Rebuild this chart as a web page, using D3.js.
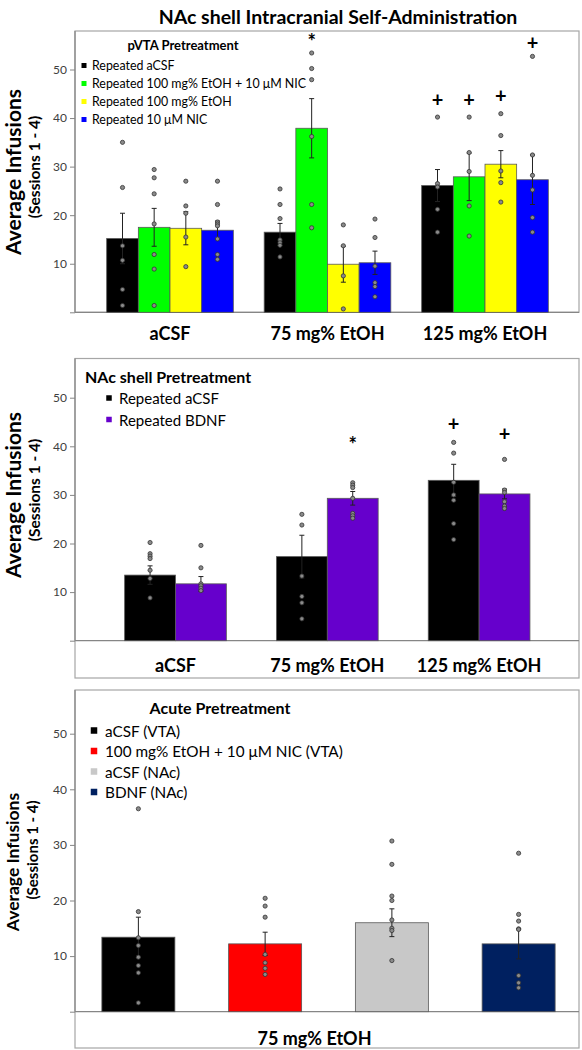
<!DOCTYPE html>
<html><head><meta charset="utf-8">
<script src="https://cdn.jsdelivr.net/npm/d3@7/dist/d3.min.js"></script>
<style>
body{margin:0;background:#fff}
svg{display:block;font-family:Lato,"Open Sans",sans-serif}
</style>
</head><body>
<svg id="chart" width="582" height="1050"></svg>
<script>
// ---------- DATA ----------
const yTicks = [10, 20, 30, 40, 50];
const titleText = "NAc shell Intracranial Self-Administration";
const yTitle = "Average Infusions";
const ySub = "(Sessions 1 - 4)";

// Panel 1 : pVTA pretreatment
const groups1 = ["aCSF", "75 mg% EtOH", "125 mg% EtOH"];
const series1 = ["Repeated aCSF", "Repeated 100 mg% EtOH + 10 \u03bcM NIC", "Repeated 100 mg% EtOH", "Repeated 10 \u03bcM NIC"];
const colors1 = ["#000000", "#00ff00", "#ffff00", "#0000ff"];
const means1 = [[15.2, 17.5, 17.3, 16.9], [16.5, 37.9, 9.9, 10.2], [26.1, 27.9, 30.5, 27.3]];
const sems1 = [[5.2, 3.9, 3.4, 1.9], [1.8, 6.1, 3.7, 2.4], [3.3, 4.9, 2.8, 5.1]];
const points1 = [
  [[35.0, 25.7, 13.7, 10.7, 4.7, 1.4], [29.4, 27.7, 24.4, 18.2, 11.9, 8.9, 1.4], [27.0, 21.9, 20.4, 15.5, 9.4], [27.0, 22.2, 18.6, 18.2, 17.8, 15.1, 11.9, 10.9]],
  [[25.4, 22.2, 19.3, 14.9, 14.3, 13.8, 11.4], [53.4, 50.2, 47.9, 36.2, 22.2, 17.4], [18.0, 13.7, 7.5, 0.7], [19.2, 15.4, 9.5, 6.1, 5.3, 3.2]],
  [[40.2, 26.5, 25.8, 21.2, 16.5], [40.2, 32.9, 29.0, 21.9, 15.7], [40.9, 36.4, 29.1, 26.7, 22.7], [52.7, 32.4, 28.2, 25.2, 19.5, 16.5]]
];
const marks1 = [[1, 1, "*", 56.2], [2, 0, "+", 43.7], [2, 1, "+", 43.7], [2, 2, "+", 44.4], [2, 3, "+", 55.3]];
const legendTitle1 = "pVTA Pretreatment";

// Panel 2 : NAc shell pretreatment
const groups2 = ["aCSF", "75 mg% EtOH", "125 mg% EtOH"];
const series2 = ["Repeated aCSF", "Repeated BDNF"];
const colors2 = ["#000000", "#6600cc"];
const means2 = [[13.5, 11.7], [17.3, 29.3], [33.0, 30.2]];
const sems2 = [[1.9, 1.5], [4.4, 1.4], [3.3, 1.0]];
const points2 = [
  [[20.2, 17.9, 17.4, 16.9, 14.5, 12.8, 8.8], [19.6, 15.0, 11.7, 11.3, 10.8, 10.3]],
  [[26.0, 23.8, 13.3, 9.1, 7.8, 4.5], [32.5, 32.0, 31.5, 29.3, 26.2, 25.7, 25.2]],
  [[40.8, 38.6, 32.6, 30.0, 28.9, 24.1, 20.8], [37.3, 31.0, 30.5, 28.6, 27.7, 27.2]]
];
const marks2 = [[1, 1, "*", 40.9], [2, 0, "+", 44.4], [2, 1, "+", 42.5]];
const legendTitle2 = "NAc shell Pretreatment";

// Panel 3 : acute pretreatment
const groups3 = ["75 mg% EtOH"];
const series3 = ["aCSF (VTA)", "100 mg% EtOH + 10 \u03bcM NIC (VTA)", "aCSF (NAc)", "BDNF (NAc)"];
const colors3 = ["#000000", "#ff0000", "#c8c8c8", "#002060"];
const means3 = [[13.4, 12.2, 16.0, 12.2]];
const sems3 = [[3.6, 2.1, 2.5, 2.7]];
const points3 = [[
  [36.5, 18.0, 13.3, 11.9, 9.8, 8.3, 7.0, 1.6],
  [20.4, 19.0, 17.0, 10.3, 8.8, 7.8, 6.7],
  [30.7, 26.5, 20.8, 20.0, 16.5, 15.0, 14.6, 9.2],
  [28.5, 17.5, 16.3, 14.9, 14.8, 6.5, 5.2, 4.3]
]];
const marks3 = [];
const legendTitle3 = "Acute Pretreatment";

// ---------- DRAW ----------
const svg = d3.select("#chart");
svg.append("rect").attr("width", 582).attr("height", 1050).attr("fill", "#fff");

svg.append("text").attr("x", 338).attr("y", 24).attr("text-anchor", "middle")
  .attr("font-weight", "bold").attr("font-size", 19.5).attr("fill", "#000").text(titleText);

function panel(o) {
  const g = svg.append("g");
  const y = d3.scaleLinear().domain([0, 50]).range([o.y0, o.y50]);
  const x0 = d3.scaleBand().domain(o.groups).range(o.xr).paddingInner(o.pi).paddingOuter(o.po);
  const x1 = d3.scaleBand().domain(o.series).range([0, x0.bandwidth()]).paddingInner(o.pi1 || 0).paddingOuter(o.po1 || 0);

  // frame
  g.append("rect").attr("x", o.box[0]).attr("y", o.box[1])
    .attr("width", o.box[2] - o.box[0]).attr("height", o.box[3] - o.box[1])
    .attr("fill", "none").attr("stroke", "#a6a6a6").attr("stroke-width", 1.2);

  // y axis
  const ax = g.append("g").attr("transform", `translate(${o.box[0]},0)`)
    .call(d3.axisLeft(y).tickValues([0, ...yTicks]).tickFormat(d => d === 0 ? "" : d).tickSize(5).tickSizeOuter(0).tickPadding(3));
  ax.select(".domain").remove();
  ax.selectAll(".tick line").attr("stroke", "#868686");
  ax.selectAll(".tick text").attr("font-size", 12).attr("fill", "#404040").attr("font-family", "Lato, sans-serif");
  g.append("line").attr("x1", o.box[0]).attr("x2", o.box[0]).attr("y1", o.box[1]).attr("y2", y(0)).attr("stroke", "#868686").attr("stroke-width", 1.2);
  g.append("line").attr("x1", o.box[0]).attr("x2", o.box[2]).attr("y1", y(0)).attr("y2", y(0)).attr("stroke", "#868686").attr("stroke-width", 1.2);

  // bars
  o.groups.forEach((gr, gi) => {
    o.series.forEach((se, si) => {
      const m = o.means[gi][si], s = o.sems[gi][si];
      const bx = x0(gr) + x1(se), bw = x1.bandwidth(), cx = bx + bw / 2;
      g.append("rect").attr("x", bx).attr("y", y(m)).attr("width", bw).attr("height", y(0) - y(m))
        .attr("fill", o.colors[si]).attr("stroke", "#595959").attr("stroke-width", 0.8);
      g.append("line").attr("x1", cx).attr("x2", cx).attr("y1", y(m - s)).attr("y2", y(m + s)).attr("stroke", "#222").attr("stroke-width", 1);
      [m - s, m + s].forEach(v => g.append("line").attr("x1", cx - 2.5).attr("x2", cx + 2.5).attr("y1", y(v)).attr("y2", y(v)).attr("stroke", "#222").attr("stroke-width", 1));
      g.selectAll(null).data(o.points[gi][si]).enter().append("circle")
        .attr("cx", cx).attr("cy", d => y(d)).attr("r", 2.1)
        .attr("fill", "#8a8a8a").attr("stroke", "#333").attr("stroke-width", 0.8);
    });
  });

  // significance marks
  o.marks.forEach(([gi, si, sym, v]) => {
    const cx = x0(o.groups[gi]) + x1(o.series[si]) + x1.bandwidth() / 2;
    g.append("text").attr("x", cx).attr("y", y(v) + (sym === "*" ? 10 : 6.5)).attr("text-anchor", "middle")
      .attr("font-weight", "bold").attr("font-size", 20).attr("fill", "#000").text(sym);
  });

  // category labels
  o.groups.forEach(gr => {
    g.append("text").attr("x", x0(gr) + x0.bandwidth() / 2 + (o.labDx || 0)).attr("y", o.labY)
      .attr("text-anchor", "middle").attr("dominant-baseline", "central")
      .attr("font-weight", "bold").attr("font-size", 18).attr("fill", "#000").text(gr);
  });

  // y titles
  g.append("text").attr("transform", `translate(${o.yt[0]},${o.yt[1]}) rotate(-90)`)
    .attr("text-anchor", "middle").attr("font-weight", "bold").attr("font-size", o.yt[2]).attr("fill", "#000").text(yTitle);
  g.append("text").attr("transform", `translate(${o.ys[0]},${o.ys[1]}) rotate(-90)`)
    .attr("text-anchor", "middle").attr("font-weight", "bold").attr("font-size", o.ys[2]).attr("fill", "#000").text(ySub);

  // legend
  const L = o.leg;
  g.append("text").attr("x", L.tx).attr("y", L.ty).attr("text-anchor", L.ta).attr("dominant-baseline", "central")
    .attr("font-weight", "bold").attr("font-size", L.tfs).attr("fill", "#000").text(o.legendTitle);
  o.series.forEach((se, si) => {
    const yy = L.y0 + si * L.dy;
    g.append("rect").attr("x", L.sx - L.ss / 2).attr("y", yy - L.ss / 2).attr("width", L.ss).attr("height", L.ss).attr("fill", o.colors[si]);
    g.append("text").attr("x", L.x).attr("y", yy).attr("dominant-baseline", "central")
      .attr("font-size", L.fs).attr("fill", "#000").text(se);
  });
}

panel({
  groups: groups1, series: series1, colors: colors1, means: means1, sems: sems1, points: points1, marks: marks1,
  legendTitle: legendTitle1,
  box: [75, 31, 579, 312.3], y0: 312.3, y50: 69.5,
  xr: [91.25, 563.75], pi: 0.196, po: 0.098,
  labY: 333,
  yt: [21, 172, 21], ys: [40, 167, 15.5],
  leg: { tx: 183, ty: 45, ta: "middle", tfs: 13, sx: 84, ss: 5, x: 92, y0: 65.5, dy: 18, fs: 12.4 }
});

panel({
  groups: groups2, series: series2, colors: colors2, means: means2, sems: sems2, points: points2, marks: marks2,
  legendTitle: legendTitle2,
  box: [75, 358.5, 579, 678], y0: 640.7, y50: 397.7,
  xr: [99.6, 555], pi: 0.33, po: 0.165,
  labY: 665,
  yt: [21, 495, 21], ys: [40, 490, 15.5],
  leg: { tx: 85, ty: 376, ta: "start", tfs: 16, sx: 109, ss: 5.5, x: 119, y0: 398, dy: 21.5, fs: 15 }
});

panel({
  groups: groups3, series: series3, colors: colors3, means: means3, sems: sems3, points: points3, marks: marks3,
  legendTitle: legendTitle3,
  box: [75, 690, 579, 1048], y0: 1011.7, y50: 733.7,
  xr: [75, 582], pi: 0, po: 0, pi1: 0.424, po1: 0.212,
  labY: 1038, labDx: -14,
  yt: [19, 862, 17.5], ys: [38, 850, 15],
  leg: { tx: 220, ty: 707, ta: "middle", tfs: 16, sx: 94, ss: 6.5, x: 105, y0: 730.5, dy: 20.5, fs: 15.3 }
});
</script>
</body></html>
